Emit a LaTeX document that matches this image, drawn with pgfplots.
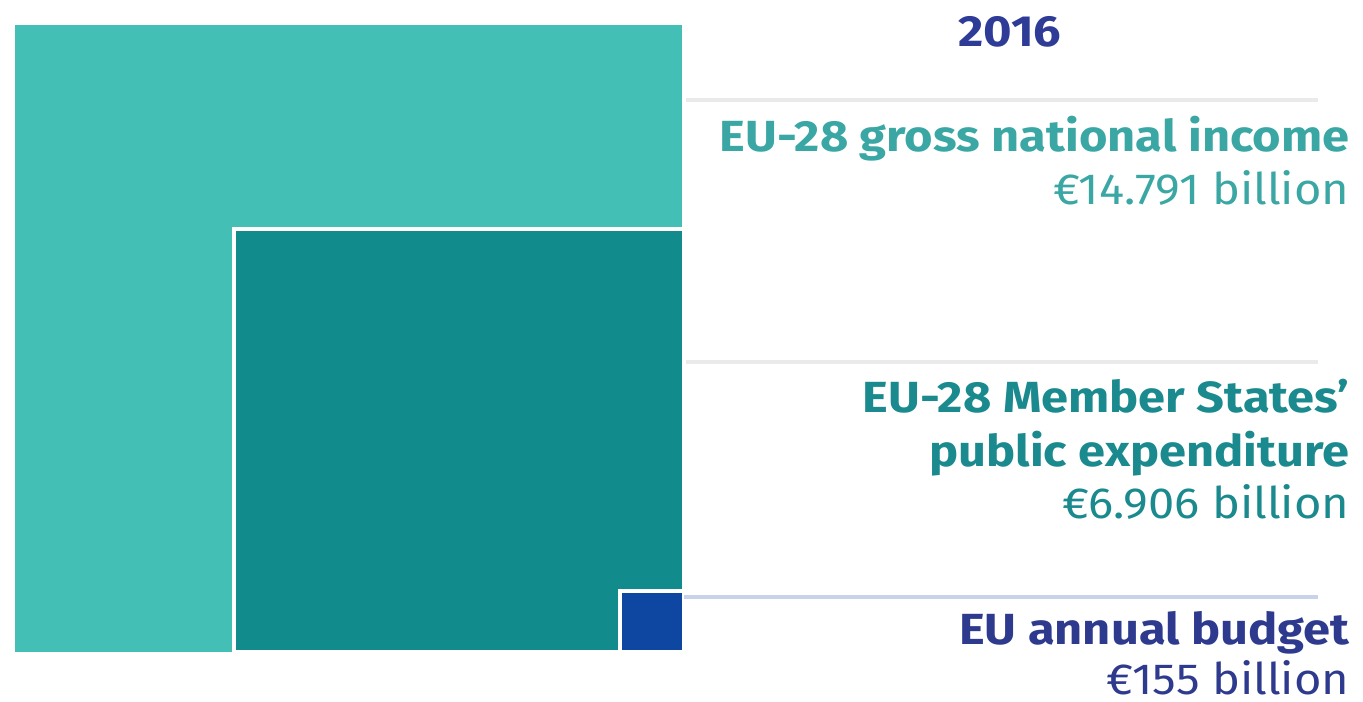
\documentclass[border=0pt]{standalone}
\usepackage{pgfplots}
\pgfplotsset{compat=1.18}
\usepackage{fontspec}
\setmainfont{Fira Sans}
\newfontfamily\lblB{Fira Sans}[FakeStretch=1.12]
\newfontfamily\lblR{Fira Sans}[FakeStretch=1.08]
\definecolor{cBig}{HTML}{44BFB5}
\definecolor{cMid}{HTML}{128B8D}
\definecolor{cSmall}{HTML}{0E47A1}
\definecolor{tTitle}{HTML}{2E3B97}
\definecolor{tOne}{HTML}{3AA7A4}
\definecolor{tTwo}{HTML}{1A8A8F}
\definecolor{tThree}{HTML}{2E3A8E}
\definecolor{gLine}{HTML}{EAEAEA}
\definecolor{bLine}{HTML}{C8D3EB}
\begin{document}
\begin{tikzpicture}
\begin{axis}[
  scale only axis, width=136.3mm, height=70.2mm,
  xmin=0, xmax=1363, ymin=0, ymax=702, y dir=reverse,
  hide axis, clip=false,
]
% squares (areas ~ 14791, 6906, 155 billion EUR)
\addplot[fill=cBig, draw=none] coordinates {(15,25) (682,25) (682,652) (15,652)} --cycle;
\addplot[fill=cMid, draw=white, line width=1.2pt] coordinates {(234,229) (684,229) (684,652) (234,652)} --cycle;
\addplot[fill=cSmall, draw=white, line width=1.2pt] coordinates {(620,591) (684,591) (684,652) (620,652)} --cycle;
% guide lines
\addplot[gLine, line width=0.9pt] coordinates {(686,100) (1318,100)};
\addplot[gLine, line width=0.9pt] coordinates {(686,362) (1318,362)};
\addplot[bLine, line width=0.9pt] coordinates {(684,597) (1318,597)};
\draw[draw=none] (axis cs:0,0) rectangle (axis cs:1363,702);
% labels
\tikzset{lb/.style={anchor=base east, inner sep=0pt, font=\lblB\fontsize{12.4}{15}\selectfont\bfseries},
         lr/.style={anchor=base east, inner sep=0pt, font=\lblR\fontsize{12.4}{15}\selectfont}}
\node[anchor=base, inner sep=0pt, font=\lblB\fontsize{12.4}{15}\selectfont\bfseries, text=tTitle] at (axis cs:1010,47) {2016};
\node[lb, text=tOne] at (axis cs:1350,152) {EU-28 gross national income};
\node[lr, text=tOne] at (axis cs:1350,205) {€14.791 billion};
\node[lb, text=tTwo] at (axis cs:1350,413) {EU-28 Member States’};
\node[lb, text=tTwo] at (axis cs:1350,466) {public expenditure};
\node[lr, text=tTwo] at (axis cs:1350,518) {€6.906 billion};
\node[lb, text=tThree] at (axis cs:1350,644) {EU annual budget};
\node[lr, text=tThree] at (axis cs:1350,694) {€155 billion};
\end{axis}
\pgfresetboundingbox
\path[use as bounding box] (0,0) rectangle (136.3mm,70.2mm);
\end{tikzpicture}
\end{document}
